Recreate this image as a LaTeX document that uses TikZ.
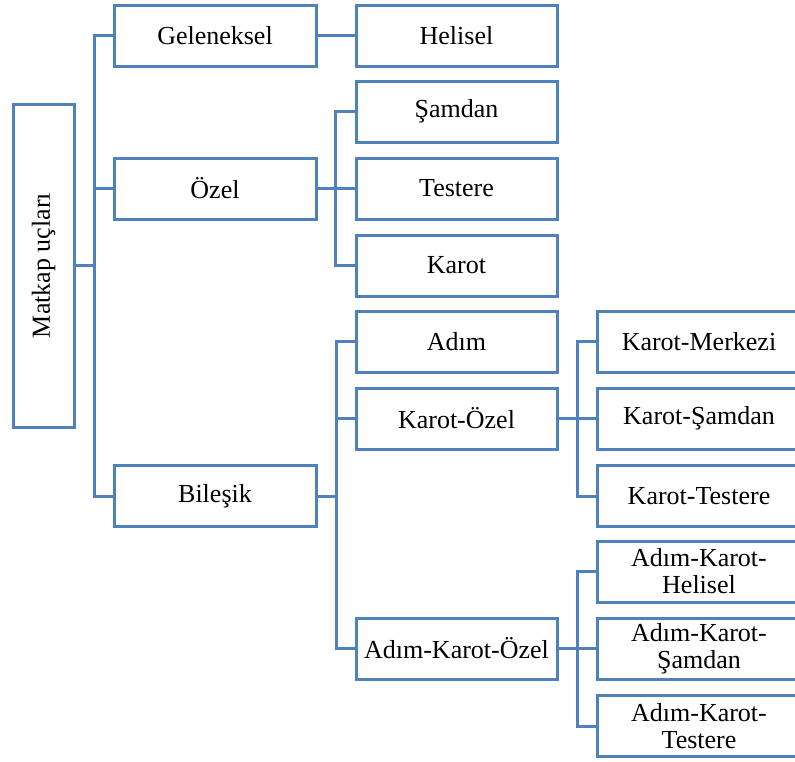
\documentclass[tikz,border=0pt]{standalone}
\usepackage{fontspec}
\setmainfont{Liberation Serif}
\definecolor{boxblue}{RGB}{79,129,189}
\begin{document}
\begin{tikzpicture}[x=1pt,y=-1pt,
  box/.style={draw=boxblue, line width=3pt, fill=white, minimum height=61pt,
    inner sep=2pt, align=center, font=\fontsize{26}{27}\selectfont},
  lone/.style={box, minimum width=202pt},
  ltwo/.style={box, minimum width=201pt},
  lthree/.style={box, minimum width=204pt},
  conn/.style={draw=boxblue, line width=3pt}]
\useasboundingbox (0,0) rectangle (795,761);
% root
\node[box, minimum width=61pt, minimum height=323pt] (root) at (43.5,265.5) {};
\node[rotate=90, font=\fontsize{26}{27}\selectfont] (roottext) at (root.center) {Matkap uçları};
% level 1
\node[lone] (gel) at (215,35.5) {Geleneksel};
\node[lone] (ozel) at (215,188.5) {Özel};
\node[lone] (bil) at (215,496) {Bileşik};
% level 2
\node[ltwo] (hel) at (456.5,35.5) {Helisel};
\node[ltwo] (sam) at (456.5,111.5) {Şamdan};
\node[ltwo] (tes) at (456.5,188.5) {Testere};
\node[ltwo] (kar) at (456.5,265.5) {Karot};
\node[ltwo] (adim) at (456.5,341.5) {Adım};
\node[ltwo] (kozel) at (456.5,418.5) {Karot-Özel};
\node[ltwo] (akozel) at (456.5,648.5) {Adım-Karot-Özel};
% level 3
\node[lthree] (kmer) at (699,341.5) {Karot-Merkezi};
\node[lthree] (ksam) at (699,418.5) {Karot-Şamdan};
\node[lthree] (ktes) at (699,496) {Karot-Testere};
\node[lthree] (akhel) at (699,571.5) {Adım-Karot-\\Helisel};
\node[lthree] (aksam) at (699,648.5) {Adım-Karot-\\Şamdan};
\node[lthree] (aktes) at (699,726) {Adım-Karot-\\Testere};
% trunk coordinates
\coordinate (t0) at (94,0);
\coordinate (t1) at (335,0);
\coordinate (t2) at (336,0);
\coordinate (t3) at (577,0);
% connectors
\draw[conn] (root.east) -- (root.east -| t0);
\draw[conn] (gel.west) -- (gel.west -| t0) -- (bil.west -| t0) -- (bil.west);
\draw[conn] (ozel.west) -- (ozel.west -| t0);
\draw[conn] (gel.east) -- (hel.west);
\draw[conn] (ozel.east) -- (ozel.east -| t1);
\draw[conn] (sam.west) -- (sam.west -| t1) -- (kar.west -| t1) -- (kar.west);
\draw[conn] (tes.west) -- (tes.west -| t1);
\draw[conn] (bil.east) -- (bil.east -| t2);
\draw[conn] (adim.west) -- (adim.west -| t2) -- (akozel.west -| t2) -- (akozel.west);
\draw[conn] (kozel.west) -- (kozel.west -| t2);
\draw[conn] (kozel.east) -- (kozel.east -| t3);
\draw[conn] (kmer.west) -- (kmer.west -| t3) -- (ktes.west -| t3) -- (ktes.west);
\draw[conn] (ksam.west) -- (ksam.west -| t3);
\draw[conn] (akozel.east) -- (akozel.east -| t3);
\draw[conn] (akhel.west) -- (akhel.west -| t3) -- (aktes.west -| t3) -- (aktes.west);
\draw[conn] (aksam.west) -- (aksam.west -| t3);
\end{tikzpicture}
\end{document}
